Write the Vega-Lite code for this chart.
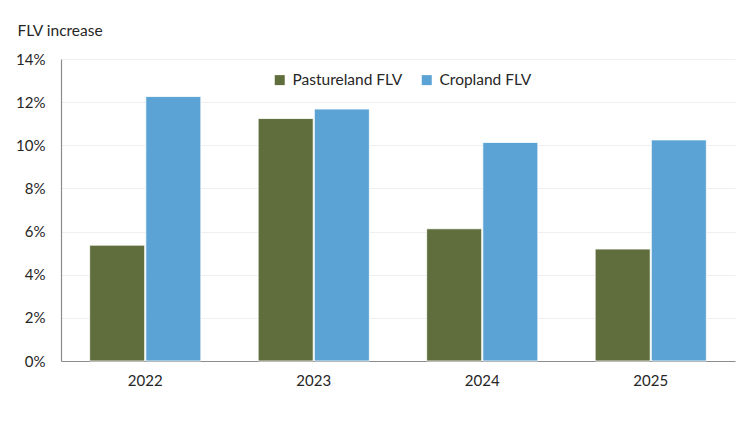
{
  "$schema": "https://vega.github.io/schema/vega-lite/v6.json",
  "width": 674,
  "height": 302,
  "autosize": {"type": "none"},
  "padding": {"left": 61, "top": 59, "right": 15, "bottom": 61},
  "background": "white",
  "config": {
    "font": "Lato",
    "view": {"stroke": null},
    "axis": {"labelFont": "Lato", "titleFont": "Lato", "labelColor": "#262626", "titleColor": "#262626"}
  },
  "data": {
    "values": [
      {"year": "2022", "series": "Pastureland FLV", "value": 5.37},
      {"year": "2022", "series": "Cropland FLV", "value": 12.26},
      {"year": "2023", "series": "Pastureland FLV", "value": 11.24},
      {"year": "2023", "series": "Cropland FLV", "value": 11.68},
      {"year": "2024", "series": "Pastureland FLV", "value": 6.13},
      {"year": "2024", "series": "Cropland FLV", "value": 10.13},
      {"year": "2025", "series": "Pastureland FLV", "value": 5.19},
      {"year": "2025", "series": "Cropland FLV", "value": 10.25}
    ]
  },
  "mark": {"type": "bar", "stroke": "white", "strokeWidth": 0.8},
  "encoding": {
    "x": {
      "field": "year",
      "type": "nominal",
      "scale": {"paddingInner": 0.34, "paddingOuter": 0.17},
      "axis": {
        "title": null,
        "labelAngle": 0,
        "ticks": false,
        "labelPadding": 12,
        "labelFontSize": 15,
        "domainColor": "#8c8c8c",
        "domainWidth": 1.2
      }
    },
    "xOffset": {
      "field": "series",
      "type": "nominal",
      "sort": ["Pastureland FLV", "Cropland FLV"],
      "scale": {"paddingInner": 0.02}
    },
    "y": {
      "field": "value",
      "type": "quantitative",
      "scale": {"domain": [0, 14]},
      "axis": {
        "title": "FLV increase",
        "titleAngle": 0,
        "titleAlign": "left",
        "titleBaseline": "middle",
        "titleX": -44,
        "titleY": -29,
        "titleFontSize": 15.5,
        "titleFontWeight": "normal",
        "values": [0, 2, 4, 6, 8, 10, 12, 14],
        "labelExpr": "datum.value + '%'",
        "ticks": false,
        "labelPadding": 16,
        "labelFontSize": 15,
        "domainColor": "#8c8c8c",
        "domainWidth": 1.2,
        "gridColor": "#efefef",
        "gridWidth": 1
      }
    },
    "color": {
      "field": "series",
      "type": "nominal",
      "sort": ["Pastureland FLV", "Cropland FLV"],
      "scale": {"domain": ["Pastureland FLV", "Cropland FLV"], "range": ["#5f6e3c", "#5ba3d4"]},
      "legend": {
        "title": null,
        "orient": "none",
        "direction": "horizontal",
        "legendX": 211,
        "legendY": 13,
        "symbolType": "square",
        "symbolSize": 100,
        "symbolStrokeWidth": 0,
        "labelFontSize": 15.5,
        "labelColor": "#262626",
        "labelFont": "Lato",
        "columnPadding": 16,
        "labelOffset": 5
      }
    }
  }
}
